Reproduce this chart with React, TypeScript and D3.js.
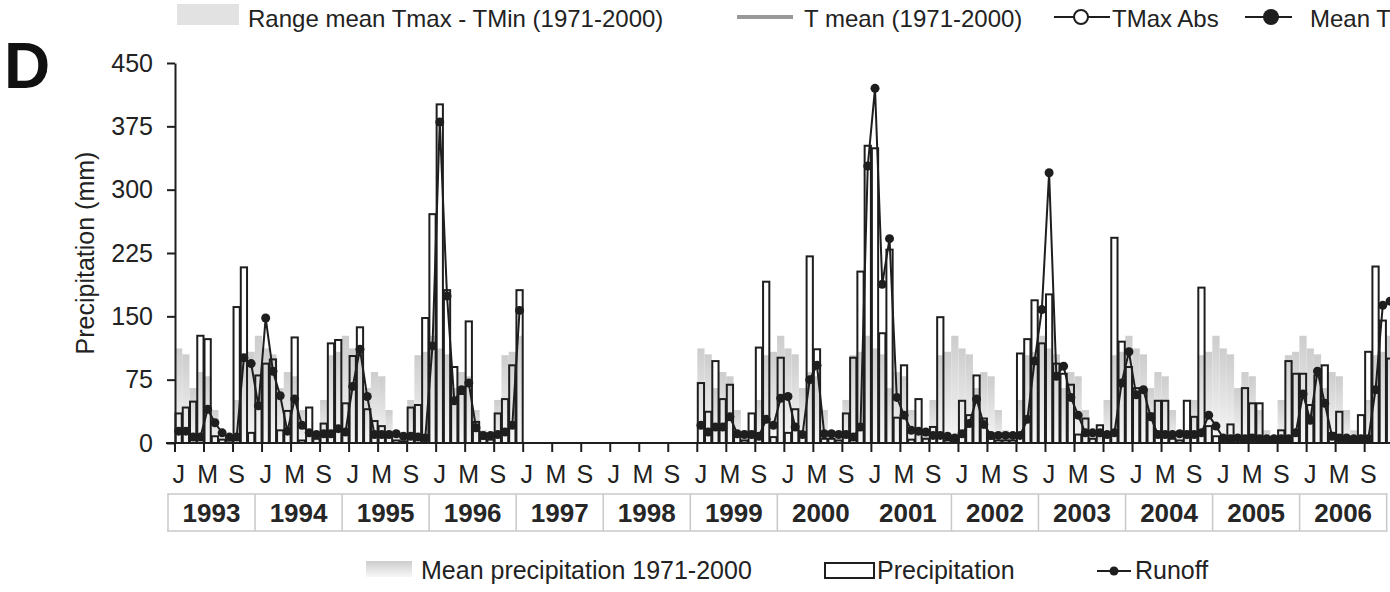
import React, { useEffect, useRef } from "react";
import * as d3 from "d3";

const FONT = "'Liberation Sans', Arial, sans-serif";
const INK = "#1e1e1e";

const years = [1993, 1994, 1995, 1996, 1997, 1998, 1999, 2000, 2001, 2002, 2003, 2004, 2005, 2006];
const monthLetters = ["J", "M", "S"];
const yTicks = [0, 75, 150, 225, 300, 375, 450];

// mean monthly precipitation 1971-2000 (Jan..Dec), repeated every year with data
const meanPrecip = [112, 105, 65, 84, 79, 39, 15, 9, 51, 104, 108, 127];

// monthly precipitation (mm), one row per year, null = no record
const precipitation: (number[] | null)[] = [
  [35, 42, 49, 127, 123, 8, 4, 3, 161, 208, 12, 80], // 1993
  [94, 99, 15, 38, 125, 3, 42, 5, 23, 118, 122, 47], // 1994
  [103, 137, 40, 26, 20, 8, 3, 2, 42, 45, 148, 271], // 1995
  [401, 181, 90, 58, 144, 25, 5, 4, 35, 52, 92, 181], // 1996
  null, // 1997
  null, // 1998
  [71, 37, 97, 52, 69, 8, 3, 35, 113, 191, 7, 101], // 1999
  [12, 40, 10, 221, 111, 5, 5, 3, 35, 101, 203, 352], // 2000
  [349, 130, 229, 30, 92, 4, 52, 5, 19, 149, 3, 3], // 2001
  [50, 33, 80, 29, 5, 3, 3, 3, 106, 123, 169, 118], // 2002
  [176, 94, 82, 69, 10, 29, 5, 21, 8, 243, 120, 90], // 2003
  [65, 62, 35, 50, 50, 5, 3, 50, 31, 184, 20, 8], // 2004
  [5, 22, 8, 65, 47, 47, 3, 3, 15, 97, 82, 82], // 2005
  [45, 80, 92, 12, 37, 3, 5, 33, 108, 209, 145, 100], // 2006
];

// monthly runoff (mm)
const runoff: (number[] | null)[] = [
  [14, 14, 7, 7, 40, 24, 12, 7, 7, 101, 94, 44], // 1993
  [148, 85, 56, 14, 52, 21, 12, 10, 11, 11, 17, 13], // 1994
  [67, 111, 55, 10, 10, 10, 11, 8, 8, 7, 6, 115], // 1995
  [380, 174, 50, 63, 71, 18, 9, 9, 10, 13, 21, 157], // 1996
  null,
  null,
  [21, 13, 19, 19, 31, 11, 10, 10, 8, 28, 21, 53], // 1999
  [55, 19, 10, 75, 92, 11, 11, 10, 10, 7, 19, 328], // 2000
  [420, 188, 242, 54, 33, 15, 14, 13, 9, 9, 8, 6], // 2001
  [11, 23, 52, 22, 9, 9, 9, 9, 9, 28, 97, 158], // 2002
  [320, 79, 91, 54, 33, 12, 12, 12, 10, 12, 71, 108], // 2003
  [57, 63, 31, 10, 10, 10, 11, 10, 10, 12, 33, 20], // 2004
  [6, 5, 6, 5, 6, 5, 5, 5, 5, 5, 12, 58], // 2005
  [27, 85, 47, 8, 6, 6, 5, 5, 5, 63, 163, 168], // 2006
];

type Month = { i: number; p: number | null; r: number | null; clim: number | null };

export default function App() {
  const ref = useRef<SVGSVGElement>(null);

  useEffect(() => {
    document.body.style.margin = "0";
    const svg = d3.select(ref.current);
    svg.selectAll("*").remove();

    const nMonths = years.length * 12;
    const x = d3.scaleLinear().domain([0, nMonths]).range([175, 175 + nMonths * 7.254]);
    const y = d3.scaleLinear().domain([0, 450]).range([443, 63]);
    const mw = x(1) - x(0);

    const months: Month[] = years.flatMap((yr, yi) =>
      d3.range(12).map((mi) => ({
        i: yi * 12 + mi,
        p: precipitation[yi] ? precipitation[yi]![mi] : null,
        r: runoff[yi] ? runoff[yi]![mi] : null,
        clim: precipitation[yi] ? meanPrecip[mi] : null,
      }))
    );

    const defs = svg.append("defs");
    const grad = defs
      .append("linearGradient")
      .attr("id", "climGrad")
      .attr("x1", 0)
      .attr("y1", 0)
      .attr("x2", 0)
      .attr("y2", 1);
    grad.append("stop").attr("offset", "0%").attr("stop-color", "#cdcdcd");
    grad.append("stop").attr("offset", "100%").attr("stop-color", "#f7f7f7");

    // climatology bars
    svg
      .append("g")
      .selectAll("rect")
      .data(months.filter((d) => d.clim != null))
      .join("rect")
      .attr("x", (d) => x(d.i))
      .attr("width", mw)
      .attr("y", (d) => y(d.clim!))
      .attr("height", (d) => y(0) - y(d.clim!))
      .attr("fill", "url(#climGrad)");

    // precipitation bars (outline only)
    svg
      .append("g")
      .selectAll("rect")
      .data(months.filter((d) => d.p != null))
      .join("rect")
      .attr("x", (d) => x(d.i) + 0.5)
      .attr("width", mw - 1)
      .attr("y", (d) => y(d.p!))
      .attr("height", (d) => y(0) - y(d.p!))
      .attr("fill", "none")
      .attr("stroke", INK)
      .attr("stroke-width", 2);

    // y axis
    const gy = svg
      .append("g")
      .attr("transform", "translate(175,0)")
      .call(d3.axisLeft(y).tickValues(yTicks).tickSize(8).tickSizeOuter(0).tickPadding(14));
    gy.attr("font-size", 25).attr("font-family", FONT);
    gy.selectAll("text").attr("fill", "#222");
    gy.selectAll("line,path").attr("stroke", INK).attr("stroke-width", 2);

    svg
      .append("text")
      .attr("transform", "translate(94,253) rotate(-90)")
      .attr("text-anchor", "middle")
      .attr("font-family", FONT)
      .attr("font-size", 25)
      .attr("fill", "#222")
      .text("Precipitation (mm)");

    // x axis
    const gx = svg.append("g");
    gx.append("line")
      .attr("x1", 166)
      .attr("x2", x(nMonths))
      .attr("y1", y(0))
      .attr("y2", y(0))
      .attr("stroke", INK)
      .attr("stroke-width", 2);
    const tickMonths = d3.range(0, nMonths + 1, 4);
    gx.selectAll("line.tick")
      .data(tickMonths)
      .join("line")
      .attr("class", "tick")
      .attr("x1", (d) => x(d))
      .attr("x2", (d) => x(d))
      .attr("y1", y(0))
      .attr("y2", y(0) + 9)
      .attr("stroke", INK)
      .attr("stroke-width", 2);
    gx.selectAll("text")
      .data(tickMonths.filter((d) => d < nMonths))
      .join("text")
      .attr("x", (d) => x(d + 0.5))
      .attr("y", 483)
      .attr("text-anchor", "middle")
      .attr("font-family", FONT)
      .attr("font-size", 25)
      .attr("fill", "#222")
      .text((d) => monthLetters[(d / 4) % 3]);

    // year boxes
    const gYear = svg.append("g");
    const yw = x(12) - x(0);
    const bx0 = x(0) - 8;
    const bx1 = x(nMonths) - 6;
    gYear
      .selectAll("line.h")
      .data([494, 531])
      .join("line")
      .attr("class", "h")
      .attr("x1", bx0)
      .attr("x2", bx1)
      .attr("y1", (d) => d)
      .attr("y2", (d) => d)
      .attr("stroke", "#c8c8c8")
      .attr("stroke-width", 1.5);
    // the 2000|2001 separator is missing in the original
    gYear
      .selectAll("line.v")
      .data(d3.range(years.length + 1).filter((k) => k !== 8))
      .join("line")
      .attr("class", "v")
      .attr("x1", (k) => x(k * 12) - 7)
      .attr("x2", (k) => x(k * 12) - 7)
      .attr("y1", 494)
      .attr("y2", 531)
      .attr("stroke", "#c8c8c8")
      .attr("stroke-width", 1.5);
    gYear
      .selectAll("text")
      .data(years)
      .join("text")
      .attr("x", (d, k) => x(k * 12) - 7 + yw / 2)
      .attr("y", 522)
      .attr("text-anchor", "middle")
      .attr("font-family", FONT)
      .attr("font-weight", "bold")
      .attr("font-size", 26)
      .attr("fill", "#262626")
      .text((d) => d);

    // runoff
    const line = d3
      .line<Month>()
      .defined((d) => d.r != null)
      .x((d) => x(d.i + 0.5))
      .y((d) => y(d.r ?? 0));
    svg
      .append("path")
      .datum(months)
      .attr("d", line)
      .attr("fill", "none")
      .attr("stroke", INK)
      .attr("stroke-width", 2);
    svg
      .append("g")
      .selectAll("circle")
      .data(months.filter((d) => d.r != null))
      .join("circle")
      .attr("cx", (d) => x(d.i + 0.5))
      .attr("cy", (d) => y(d.r!))
      .attr("r", 4.5)
      .attr("fill", INK);

    // panel letter
    svg
      .append("text")
      .attr("x", 4)
      .attr("y", 88)
      .attr("font-family", FONT)
      .attr("font-weight", "bold")
      .attr("font-size", 64)
      .attr("fill", "#111")
      .text("D");

    // top legend
    const lt = svg.append("g").attr("font-family", FONT).attr("font-size", 24).attr("fill", "#222");
    lt.append("rect").attr("x", 177).attr("y", 4).attr("width", 62).attr("height", 21).attr("fill", "#e2e2e2");
    lt.append("text").attr("x", 248).attr("y", 27).text("Range mean Tmax - TMin (1971-2000)");
    lt.append("line").attr("x1", 737).attr("x2", 793).attr("y1", 17).attr("y2", 17).attr("stroke", "#999").attr("stroke-width", 4);
    lt.append("text").attr("x", 804).attr("y", 27).text("T mean (1971-2000)");
    lt.append("line").attr("x1", 1054).attr("x2", 1110).attr("y1", 17).attr("y2", 17).attr("stroke", INK).attr("stroke-width", 2);
    lt.append("circle").attr("cx", 1081).attr("cy", 17).attr("r", 7).attr("fill", "#fff").attr("stroke", INK).attr("stroke-width", 2);
    lt.append("text").attr("x", 1112).attr("y", 27).text("TMax Abs");
    lt.append("line").attr("x1", 1245).attr("x2", 1292).attr("y1", 17).attr("y2", 17).attr("stroke", INK).attr("stroke-width", 2);
    lt.append("circle").attr("cx", 1271).attr("cy", 17).attr("r", 8).attr("fill", INK);
    lt.append("text").attr("x", 1310).attr("y", 27).text("Mean T");

    // bottom legend
    const lb = svg.append("g").attr("font-family", FONT).attr("font-size", 25).attr("fill", "#222");
    lb.append("rect").attr("x", 366).attr("y", 561).attr("width", 46).attr("height", 16).attr("fill", "url(#climGrad)");
    lb.append("text").attr("x", 421).attr("y", 579).text("Mean precipitation 1971-2000");
    lb.append("rect").attr("x", 825).attr("y", 563).attr("width", 49).attr("height", 15).attr("fill", "none").attr("stroke", INK).attr("stroke-width", 2);
    lb.append("text").attr("x", 877).attr("y", 579).text("Precipitation");
    lb.append("line").attr("x1", 1097).attr("x2", 1131).attr("y1", 571).attr("y2", 571).attr("stroke", INK).attr("stroke-width", 2);
    lb.append("circle").attr("cx", 1114).attr("cy", 571).attr("r", 4.5).attr("fill", INK);
    lb.append("text").attr("x", 1135).attr("y", 579).text("Runoff");
  }, []);

  return <svg ref={ref} width={1390} height={592} style={{ display: "block" }} />;
}
